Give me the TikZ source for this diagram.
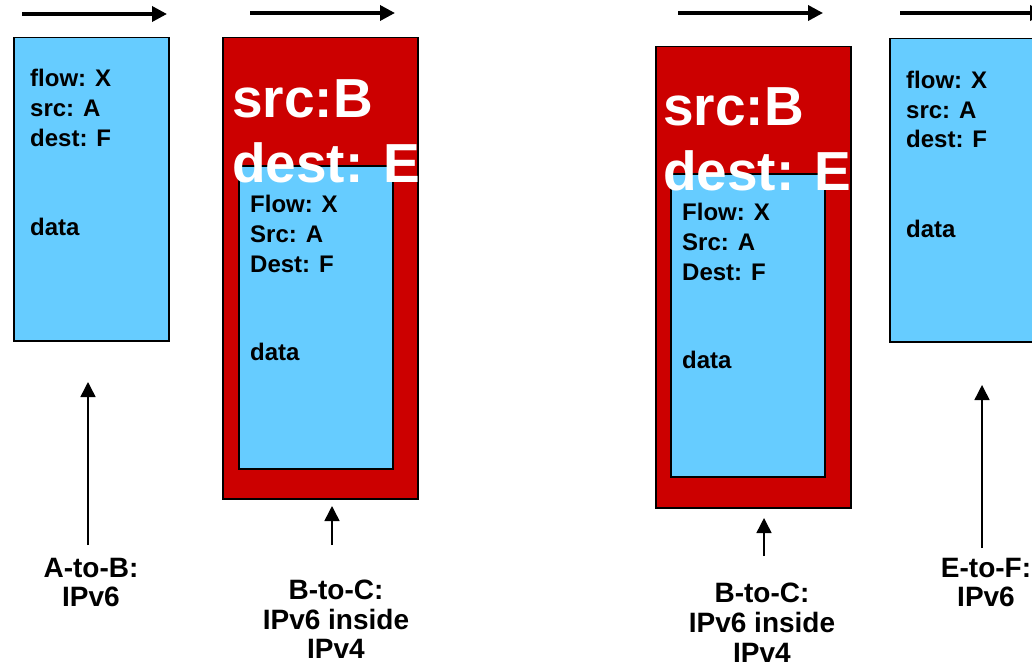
\documentclass[tikz,border=0pt]{standalone}
\usepackage{fontspec}
\setmainfont{Liberation Sans}
\usetikzlibrary{arrows.meta}
\definecolor{pblue}{RGB}{102,204,255}
\definecolor{pred}{RGB}{204,0,0}
\begin{document}
\begin{tikzpicture}[x=1pt,y=-1pt,
 bluebox/.style={draw=black,line width=1.5pt,fill=pblue,anchor=north west,inner sep=0pt},
 redbox/.style={draw=black,line width=1.5pt,fill=pred,anchor=north west,inner sep=0pt},
 txt/.style={anchor=base west,inner sep=0pt,font=\fontsize{24}{24}\bfseries\selectfont},
 big/.style={anchor=base west,inner sep=0pt,text=white,font=\fontsize{55}{55}\bfseries\selectfont},
 lab/.style={anchor=base,inner sep=0pt,font=\fontsize{28}{28}\bfseries\selectfont},
 flowarrow/.style={line width=3.5pt,-{Triangle[length=15pt,width=15pt]}},
 uparrow/.style={line width=1.5pt,-{Triangle[length=15pt,width=15pt]}}]
\clip (0,0) rectangle (1032,661);
\fill[white] (0,0) rectangle (1032,661);

% top flow arrows
\coordinate (f1s) at (22,14);  \coordinate (f1e) at (167,14);
\coordinate (f2s) at (250,13); \coordinate (f2e) at (395,13);
\coordinate (f3s) at (678,13); \coordinate (f3e) at (823,13);
\coordinate (f4s) at (900,13); \coordinate (f4e) at (1045,13);
\draw[flowarrow] (f1s) -- (f1e);
\draw[flowarrow] (f2s) -- (f2e);
\draw[flowarrow] (f3s) -- (f3e);
\draw[flowarrow] (f4s) -- (f4e);

% packet 1: A-to-B
\node[bluebox,minimum width=155pt,minimum height=303pt] (p1) at (13,37) {};
\node[txt] (p1a) at (30,86) {flow: X};
\node[txt] (p1b) at (30,116) {src: A};
\node[txt] (p1c) at (30,146) {dest: F};
\node[txt] (p1d) at (30,235) {data};

% packet 2: B-to-C
\node[redbox,minimum width=195pt,minimum height=461pt] (p2) at (222,37) {};
\node[bluebox,minimum width=154pt,minimum height=303pt] (p2i) at (238,165) {};
\node[big] (p2a) at (232,117) {src:B};
\node[big] (p2b) at (232,182) {dest: E};
\node[txt] (p2c) at (250,212) {Flow: X};
\node[txt] (p2d) at (250,242) {Src: A};
\node[txt] (p2e) at (250,272) {Dest: F};
\node[txt] (p2f) at (250,360) {data};

% packet 3: B-to-C
\node[redbox,minimum width=195pt,minimum height=461pt] (p3) at (655,46) {};
\node[bluebox,minimum width=154pt,minimum height=303pt] (p3i) at (670,173) {};
\node[big] (p3a) at (663,125) {src:B};
\node[big] (p3b) at (663,190) {dest: E};
\node[txt] (p3c) at (682,220) {Flow: X};
\node[txt] (p3d) at (682,250) {Src: A};
\node[txt] (p3e) at (682,280) {Dest: F};
\node[txt] (p3f) at (682,368) {data};

% packet 4: E-to-F
\node[bluebox,minimum width=156pt,minimum height=303pt] (p4) at (889,38) {};
\node[txt] (p4a) at (906,88) {flow: X};
\node[txt] (p4b) at (906,118) {src: A};
\node[txt] (p4c) at (906,147) {dest: F};
\node[txt] (p4d) at (906,237) {data};

% labels
\node[lab] (l1a) at (91,577) {A-to-B:};
\node[lab] (l1b) at (91,606) {IPv6};
\node[lab] (l2a) at (336,599) {B-to-C:};
\node[lab] (l2b) at (336,629) {IPv6 inside};
\node[lab] (l2c) at (336,658) {IPv4};
\node[lab] (l3a) at (762,602) {B-to-C:};
\node[lab] (l3b) at (762,632) {IPv6 inside};
\node[lab] (l3c) at (762,662) {IPv4};
\node[lab] (l4a) at (986,577) {E-to-F:};
\node[lab] (l4b) at (986,606) {IPv6};

% pointer arrows
\coordinate (u1s) at (88,545);  \coordinate (u1e) at (88,382);
\coordinate (u2s) at (332,545); \coordinate (u2e) at (332,506);
\coordinate (u3s) at (764,556); \coordinate (u3e) at (764,518);
\coordinate (u4s) at (982,548); \coordinate (u4e) at (982,385);
\draw[uparrow] (u1s) -- (u1e);
\draw[uparrow] (u2s) -- (u2e);
\draw[uparrow] (u3s) -- (u3e);
\draw[uparrow] (u4s) -- (u4e);
\end{tikzpicture}
\end{document}
